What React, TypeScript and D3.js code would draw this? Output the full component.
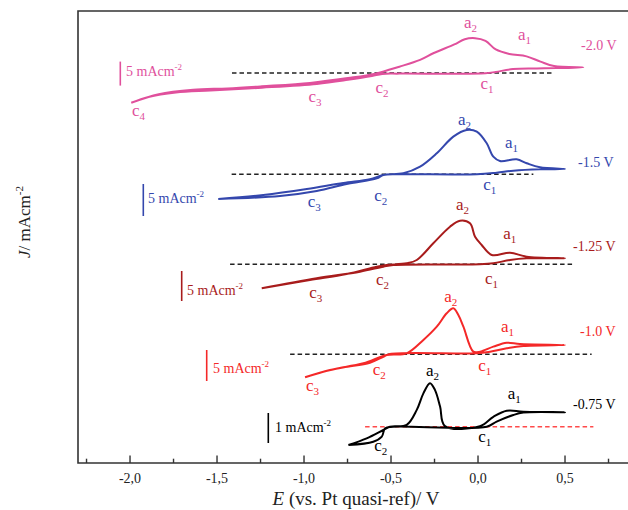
import React from "react";
import * as d3 from "d3";

// ---------- data (E in V, J in mA cm^-2) ----------
const pinkE = [-1.993, -1.835, -1.637, -1.44, -1.242, -0.966, -0.748, -0.59, -0.452, -0.333, -0.254, -0.136, -0.076, -0.017, 0.043, 0.102, 0.18, 0.279, 0.359, 0.437, 0.605,
  0.338, 0.201, 0.102, 0.043, -0.452, -0.551, -0.61, -0.748, -0.926, -1.242, -1.538, -1.736, -1.894, -1.993];
const pinkJ = [-6.23, -4.44, -3.52, -3.23, -2.79, -2.08, -1.08, -0.15, 1.29, 2.71, 4.15, 5.94, 7.02, 7.23, 6.67, 4.88, 3.94, 3.44, 2.35, 1.44, 1.15,
  0.94, 0.79, 0.21, -0.08, -0.15, -0.21, -0.65, -1.44, -2.29, -3.08, -3.65, -4.08, -5.02, -6.23];

const blueE = [-1.493, -1.234, -0.984, -0.774, -0.621, -0.544, -0.429, -0.333, -0.237, -0.142, -0.065, -0.007, 0.05, 0.088, 0.126, 0.222, 0.28, 0.356, 0.5,
  0.356, 0.203, 0.107, -0.007, -0.467, -0.544, -0.582, -0.755, -0.927, -1.138, -1.493];
const blueJ = [-3.86, -3.23, -2.3, -1.36, -0.78, -0.11, 0.16, 1.19, 3.28, 5.88, 6.92, 6.66, 4.84, 2.75, 2.08, 2.34, 1.72, 1.09, 0.83,
  0.78, 0.56, 0.25, 0, 0, -0.11, -0.63, -1.52, -2.61, -3.39, -3.86];

const darkRedE = [-1.243, -0.966, -0.755, -0.582, -0.525, -0.41, -0.352, -0.257, -0.161, -0.103, -0.046, -0.017, 0.021, 0.079, 0.184, 0.28, 0.5,
  0.28, 0.184, 0.088, 0.011, -0.487, -0.544, -0.678, -0.927, -1.243];
const darkRedJ = [-4.0, -2.62, -1.62, -0.4, -0.12, 0.17, 0.72, 3.5, 6.27, 7.27, 6.83, 4.6, 3.22, 1.55, 1.93, 1.27, 1.0,
  1.0, 0.72, 0.17, 0, -0.12, -0.4, -1.23, -2.33, -4.0];

const redE = [-0.994, -0.851, -0.659, -0.525, -0.41, -0.314, -0.237, -0.18, -0.142, -0.113, -0.084, -0.027, 0.011, 0.088, 0.165, 0.241, 0.5,
  0.26, 0.165, 0.069, -0.007, -0.506, -0.544, -0.621, -0.774, -0.889, -0.994];
const redJ = [-3.71, -2.53, -1.45, -0.11, 0.16, 2.31, 4.45, 6.61, 7.42, 6.34, 4.45, 0.42, 0.42, 1.23, 1.87, 1.66, 1.5,
  1.34, 0.97, 0.42, 0.16, 0.05, -0.39, -1.35, -2.1, -2.81, -3.71];

const blackE = [-0.745, -0.64, -0.544, -0.506, -0.41, -0.352, -0.314, -0.276, -0.247, -0.218, -0.19, 0.011, 0.088, 0.165, 0.26, 0.5,
  0.26, 0.203, 0.107, 0.05, -0.487, -0.534, -0.553, -0.602, -0.745];
const blackJ = [-0.61, -0.39, -0.11, 0, 0.06, 0.56, 1.11, 1.45, 1.22, 0.67, 0.02, 0.02, 0.33, 0.53, 0.5, 0.48,
  0.47, 0.39, 0.17, 0, 0, -0.05, -0.33, -0.5, -0.61];

const majorTicks = [-2.0, -1.5, -1.0, -0.5, 0.0, 0.5];
const minorTicks = [-2.25, -1.75, -1.25, -0.75, -0.25, 0.25, 0.75];
const tickLabels = ["-2,0", "-1,5", "-1,0", "-0,5", "0,0", "0,5"];
const curveNames = ["-2.0 V", "-1.5 V", "-1.25 V", "-1.0 V", "-0.75 V"];
const barLabels = ["5 mAcm", "5 mAcm", "5 mAcm", "5 mAcm", "1 mAcm"];
const barValues = [5, 5, 5, 5, 1];
const dashRange = [[-1.414, 0.43], [-1.416, 0.318], [-1.425, 0.557], [-1.08, 0.653], [-0.649, 0.663]];

// ---------- layout ----------
type Lbl = { t: string; s: string; x: number; y: number };
const panels = [
  { E: pinkE, J: pinkJ, color: "#e0509c", dashColor: "#222", base: 72.9, k: 4.8, barX: 120.3, barTop: 61.6, labX: 126, labY: 76, nameX: 581, nameY: 50,
    lbls: [{ t: "a", s: "2", x: 468, y: 23.5 }, { t: "a", s: "1", x: 522, y: 35.8 }, { t: "c", s: "1", x: 484.4, y: 85 }, { t: "c", s: "2", x: 379.5, y: 89 }, { t: "c", s: "3", x: 312.5, y: 97.7 }, { t: "c", s: "4", x: 136, y: 112 }] as Lbl[] },
  { E: blueE, J: blueJ, color: "#3447ad", dashColor: "#222", base: 174.3, k: 6.4, barX: 143.3, barTop: 184, labX: 148, labY: 203, nameX: 578, nameY: 167,
    lbls: [{ t: "a", s: "2", x: 462, y: 121 }, { t: "a", s: "1", x: 509, y: 143.7 }, { t: "c", s: "1", x: 487.3, y: 186 }, { t: "c", s: "2", x: 378.3, y: 196.7 }, { t: "c", s: "3", x: 311.7, y: 203.3 }] as Lbl[] },
  { E: darkRedE, J: darkRedJ, color: "#a81c1c", dashColor: "#222", base: 264.3, k: 6.0, barX: 181.7, barTop: 271, labX: 187, labY: 295, nameX: 573, nameY: 251,
    lbls: [{ t: "a", s: "2", x: 460, y: 206 }, { t: "a", s: "1", x: 507.3, y: 234.7 }, { t: "c", s: "1", x: 489, y: 280 }, { t: "c", s: "2", x: 380, y: 281.3 }, { t: "c", s: "3", x: 313.3, y: 294 }] as Lbl[] },
  { E: redE, J: redJ, color: "#f42828", dashColor: "#222", base: 354.3, k: 6.2, barX: 206.7, barTop: 350, labX: 213, labY: 373, nameX: 580, nameY: 336,
    lbls: [{ t: "a", s: "2", x: 448.3, y: 298 }, { t: "a", s: "1", x: 505, y: 328 }, { t: "c", s: "1", x: 482.3, y: 366.7 }, { t: "c", s: "2", x: 376.7, y: 371.3 }, { t: "c", s: "3", x: 310, y: 386.7 }] as Lbl[] },
  { E: blackE, J: blackJ, color: "#000000", dashColor: "#ff4a4a", base: 426.7, k: 30, barX: 268.3, barTop: 413, labX: 275, labY: 432, nameX: 573, nameY: 409,
    lbls: [{ t: "a", s: "2", x: 430, y: 371.7 }, { t: "a", s: "1", x: 511.7, y: 394.7 }, { t: "c", s: "1", x: 482.3, y: 438.3 }, { t: "c", s: "2", x: 378.3, y: 446.7 }] as Lbl[] },
];

const W = 628, H = 510;
const L = 78, T = 11, B = 463;
const FONT = "'Liberation Serif', 'Times New Roman', serif";

export default function App() {
  const x = d3.scaleLinear().domain([-2.299, 0.862]).range([L, W]);
  return (
    <svg width={W} height={H} style={{ position: "absolute", left: 0, top: 0, background: "#fff" }} fontFamily={FONT}>
      <rect x={0} y={0} width={W} height={H} fill="#fff" />
      {/* frame */}
      <path d={`M${W},${T}H${L}V${B}H${W}`} fill="none" stroke="#333" strokeWidth={1.6} />
      {majorTicks.map((v, i) => (
        <g key={"M" + i}>
          <line x1={x(v)} x2={x(v)} y1={B} y2={B - 7.5} stroke="#333" strokeWidth={1.4} />
          <text x={x(v)} y={483} fontSize={14} textAnchor="middle" fill="#222">{tickLabels[i]}</text>
        </g>
      ))}
      {minorTicks.map((v, i) => (
        <line key={"m" + i} x1={x(v)} x2={x(v)} y1={B} y2={B - 4.3} stroke="#333" strokeWidth={1.4} />
      ))}
      <text x={356} y={505} fontSize={19} textAnchor="middle" fill="#222">
        <tspan fontStyle="italic">E</tspan> (vs. Pt quasi-ref)/ V
      </text>
      <text transform="translate(30,222) rotate(-90)" fontSize={17} textAnchor="middle" fill="#222">
        <tspan fontStyle="italic">J</tspan>/ mAcm<tspan fontSize={11} dy={-7}>-2</tspan>
      </text>

      {panels.map((p, i) => {
        const y = d3.scaleLinear().domain([0, 1]).range([p.base, p.base - p.k]);
        const pts: [number, number][] = p.E.map((e, j) => [e, p.J[j]]);
        const line = d3.line<[number, number]>().x(d => x(d[0])).y(d => y(d[1])).curve(d3.curveCatmullRom.alpha(0.5));
        const dr = dashRange[i];
        return (
          <g key={i}>
            <line x1={x(dr[0])} x2={x(dr[1])} y1={y(0)} y2={y(0)} stroke={p.dashColor} strokeWidth={1.5} strokeDasharray="4.5,3" />
            <path d={line(pts) || ""} fill="none" stroke={p.color} strokeWidth={2} strokeLinejoin="round" />
            <line x1={p.barX} x2={p.barX} y1={p.barTop} y2={p.barTop + barValues[i] * p.k} stroke={p.color} strokeWidth={1.6} />
            <text x={p.labX} y={p.labY} fontSize={14} fill={p.color}>
              {barLabels[i]}<tspan fontSize={9} dy={-6}>-2</tspan>
            </text>
            <text x={p.nameX} y={p.nameY} fontSize={14} fill={p.color}>{curveNames[i]}</text>
            {p.lbls.map((l, j) => (
              <text key={j} x={l.x - 4} y={l.y + 4} fontSize={17} fill={p.color}>
                {l.t}<tspan fontSize={11} dy={4}>{l.s}</tspan>
              </text>
            ))}
          </g>
        );
      })}
    </svg>
  );
}
